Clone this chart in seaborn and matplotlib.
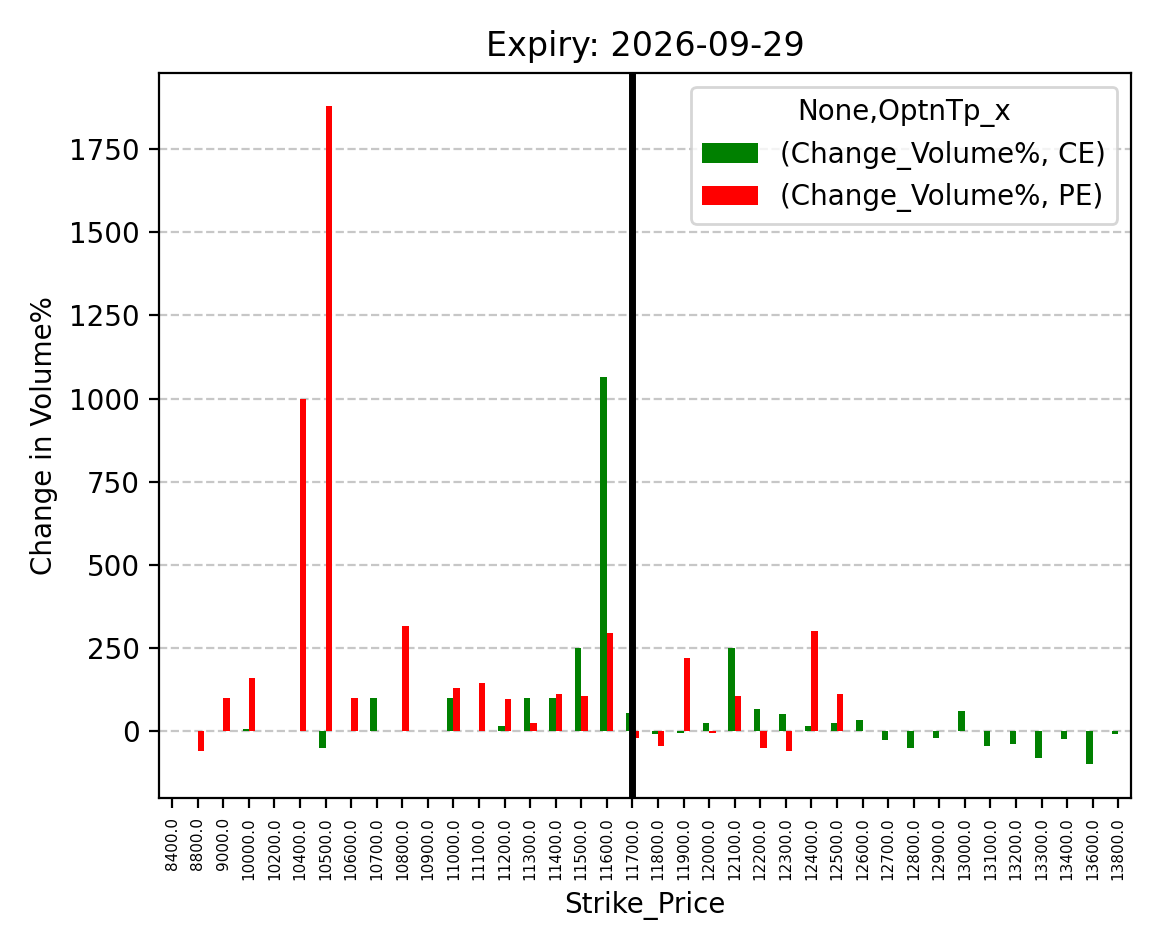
import numpy as np
import pandas as pd
import matplotlib
matplotlib.use('Agg')
import matplotlib.pyplot as plt
import seaborn as sns

strikes = [8400, 8800, 9000, 10000, 10200, 10400, 10500, 10600, 10700, 10800,
           10900, 11000, 11100, 11200, 11300, 11400, 11500, 11600, 11700, 11800,
           11900, 12000, 12100, 12200, 12300, 12400, 12500, 12600, 12700, 12800,
           12900, 13000, 13100, 13200, 13300, 13400, 13600, 13800]
ce_change = [0, 0, 0, 5, 0, 0, -50, 0, 100, 0,
             0, 100, 0, 15, 100, 100, 250, 1065, 55, -8,
             -5, 25, 250, 65, 50, 15, 25, 33, -28, -50,
             -20, 60, -45, -40, -80, -25, -100, -10]
pe_change = [0, -60, 100, 160, 0, 1000, 1880, 100, 0, 315,
             0, 130, 145, 97, 25, 110, 105, 295, -20, -45,
             220, -5, 105, -50, -60, 300, 112, 0, 0, 0,
             0, 0, 0, 0, 0, 0, 0, 0]
spot_strike = 11700

labels = [f"{s:.1f}" for s in strikes]
df = pd.DataFrame({
    'Strike_Price': labels * 2,
    'value': ce_change + pe_change,
    'type': ['(Change_Volume%, CE)'] * len(labels) + ['(Change_Volume%, PE)'] * len(labels),
})

fig, ax = plt.subplots(figsize=(5.805, 4.75), dpi=200)
sns.barplot(data=df, x='Strike_Price', y='value', hue='type', order=labels,
            palette=['green', 'red'], width=0.5, saturation=1, ax=ax)
ax.axvline(labels.index(f"{spot_strike:.1f}"), color='black', linewidth=2.5)
ax.grid(axis='y', linestyle='--', alpha=0.7)
ax.set_axisbelow(True)
ax.tick_params(axis='x', labelsize=5.5, rotation=90)
ax.set_xlabel('Strike_Price')
ax.set_ylabel('Change in Volume%')
ax.set_title('Expiry: 2026-09-29')
ax.set_ylim(-200, 1980)
ax.legend(title='None,OptnTp_x', loc='upper right')
plt.tight_layout()
plt.savefig('out.png', dpi=200)
